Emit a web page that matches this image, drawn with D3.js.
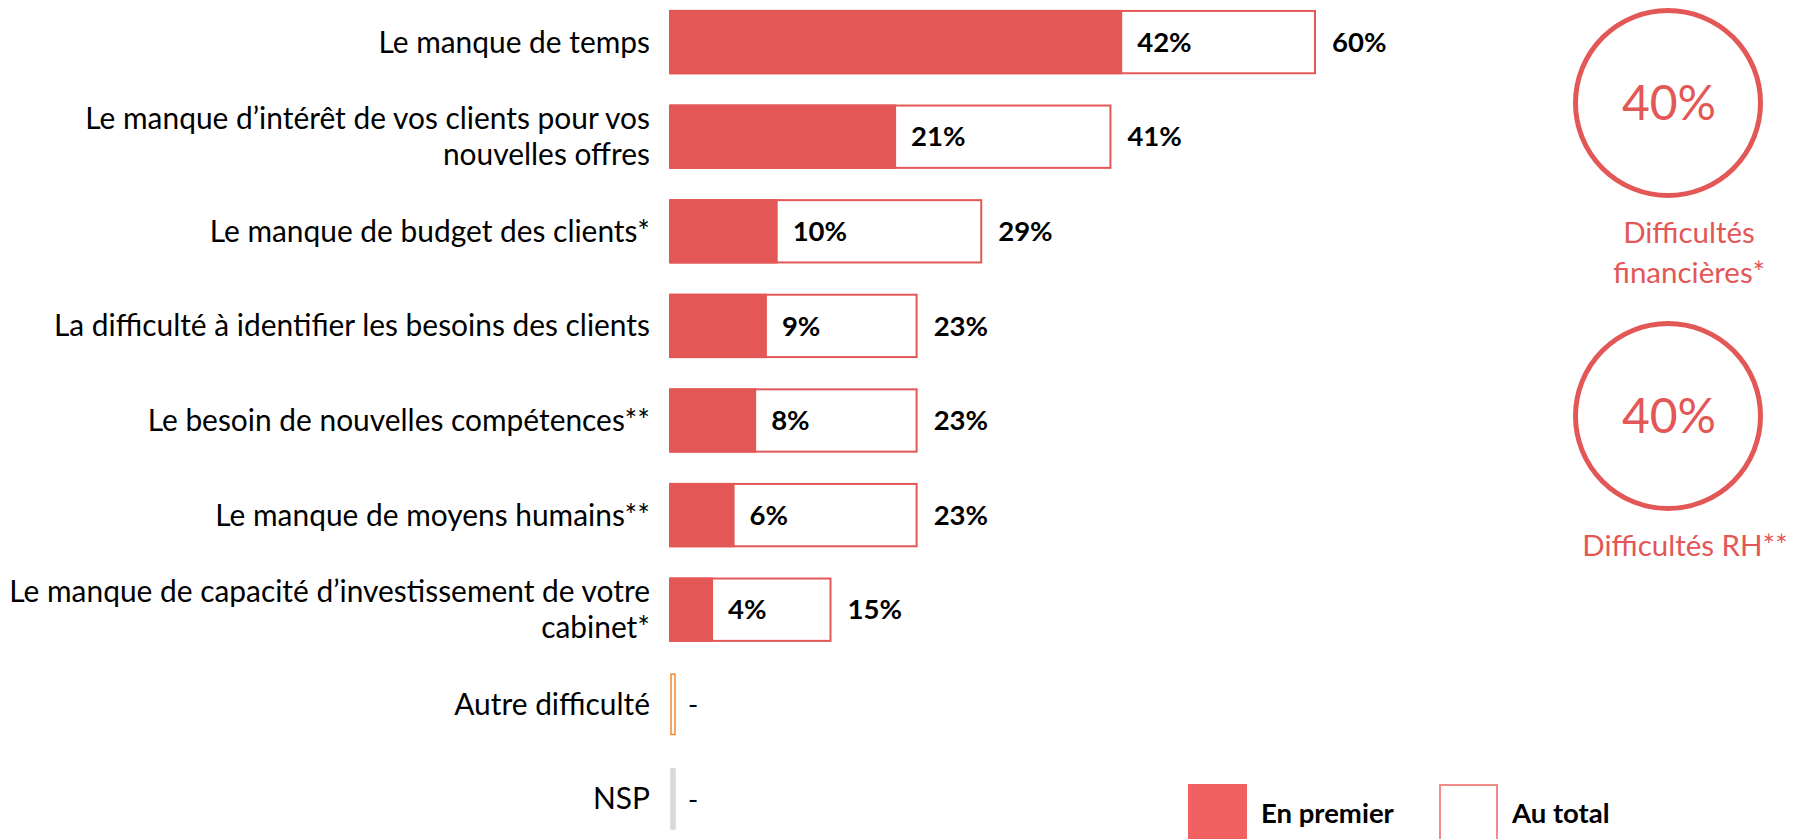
<!DOCTYPE html>
<html><head><meta charset="utf-8">
<script src="https://cdn.jsdelivr.net/npm/d3@7"></script>
<style>body{margin:0;background:#fff}svg{display:block}</style>
</head><body>
<svg id="c" width="1808" height="839"></svg>
<script>
const categories = [
  "Le manque de temps",
  "Le manque d’intérêt de vos clients pour vos\nnouvelles offres",
  "Le manque de budget des clients*",
  "La difficulté à identifier les besoins des clients",
  "Le besoin de nouvelles compétences**",
  "Le manque de moyens humains**",
  "Le manque de capacité d’investissement de votre\ncabinet*",
  "Autre difficulté",
  "NSP"
];
const firstValues = [42, 21, 10, 9, 8, 6, 4, null, null];
const totalValues = [60, 41, 29, 23, 23, 23, 15, null, null];
const seriesNames = ["En premier", "Au total"];
const summaryValues = [40, 40];
const summaryLabels = ["Difficultés\nfinancières*", "Difficultés RH**"];

const RED = "#E35757", LEG_RED = "#F26161";
const svg = d3.select("#c");
const font = "Lato, 'Open Sans', sans-serif";

const x = d3.scaleLinear().domain([0, 60]).range([670, 1316]);
const y = d3.scaleBand().domain(d3.range(categories.length))
  .range([-5.2, 846.2]).paddingInner(0.32).paddingOuter(0.16);
const bw = y.bandwidth();

const rows = categories.map((c, i) => ({c, i, f: firstValues[i], t: totalValues[i]}));
const g = svg.append("g");

// category labels
rows.forEach(r => {
  const lines = r.c.split("\n");
  const cy = y(r.i) + bw / 2;
  const lh = 36;
  const t = g.append("text").attr("text-anchor", "end")
    .attr("font-family", font).attr("font-size", 29.9).attr("fill", "#000");
  lines.forEach((ln, k) => {
    t.append("tspan").attr("x", 650)
      .attr("y", cy + (k - (lines.length - 1) / 2) * lh)
      .attr("dy", "0.35em").text(ln);
  });
});

// total bars (outline)
g.selectAll("rect.tot").data(rows.filter(r => r.t != null)).join("rect")
  .attr("x", d => x(0)).attr("y", d => y(d.i) + 1)
  .attr("width", d => x(d.t) - x(0) - 1).attr("height", bw - 2)
  .attr("fill", "#fff").attr("stroke", RED).attr("stroke-width", 2);
// first bars
g.selectAll("rect.first").data(rows.filter(r => r.f != null)).join("rect")
  .attr("x", d => x(0)).attr("y", d => y(d.i))
  .attr("width", d => x(d.f) - x(0)).attr("height", bw)
  .attr("fill", RED);

// placeholder bars for empty rows
const emptyRows = rows.filter(r => r.t == null);
g.selectAll("rect.empty").data(emptyRows).join("rect")
  .attr("x", d => x(0) + 1).attr("y", d => y(d.i) + 2)
  .attr("width", 4).attr("height", bw - 4)
  .attr("fill", (d, k) => k === 0 ? "#fff" : "#D9D9D9")
  .attr("stroke", (d, k) => k === 0 ? "#F4862F" : "#D9D9D9")
  .attr("stroke-width", 1.5);

// value labels
g.selectAll("text.fv").data(rows.filter(r => r.f != null)).join("text")
  .attr("x", d => x(d.f) + 15).attr("y", d => y(d.i) + bw / 2).attr("dy", "0.35em")
  .attr("font-family", font).attr("font-weight", 700).attr("font-size", 27.5)
  .text(d => d.f + "%");
g.selectAll("text.tv").data(rows).join("text")
  .attr("x", d => d.t != null ? x(d.t) + 16 : x(0) + 18)
  .attr("y", d => y(d.i) + bw / 2).attr("dy", "0.35em")
  .attr("font-family", font).attr("font-weight", d => d.t != null ? 700 : 400)
  .attr("font-size", 27.5)
  .text(d => d.t != null ? d.t + "%" : "-");

// summary circles
const cyScale = d3.scalePoint().domain(d3.range(summaryValues.length)).range([103, 416]);
summaryValues.forEach((v, i) => {
  const cy = cyScale(i);
  svg.append("circle").attr("cx", 1668).attr("cy", cy).attr("r", 92.5)
    .attr("fill", "none").attr("stroke", RED).attr("stroke-width", 5);
  svg.append("text").attr("x", 1669).attr("y", cy).attr("dy", "0.36em")
    .attr("text-anchor", "middle").attr("font-family", font).attr("font-size", 48)
    .attr("fill", RED).text(v + "%");
  const lines = summaryLabels[i].split("\n");
  const t = svg.append("text").attr("text-anchor", "middle").attr("font-family", font)
    .attr("font-size", 29.5).attr("fill", RED);
  lines.forEach((ln, k) => {
    t.append("tspan").attr("x", i === 0 ? 1689 : 1685).attr("y", cy + 130 + k * 40).attr("dy", "0.35em").text(ln);
  });
});

// legend
const leg = [{x: 1189, fill: LEG_RED, stroke: LEG_RED}, {x: 1440, fill: "#fff", stroke: "#F28A8A"}];
seriesNames.forEach((n, i) => {
  svg.append("rect").attr("x", leg[i].x).attr("y", 785).attr("width", 57).attr("height", 60)
    .attr("fill", leg[i].fill).attr("stroke", leg[i].stroke).attr("stroke-width", 2);
  svg.append("text").attr("x", leg[i].x + 72).attr("y", 813).attr("dy", "0.35em")
    .attr("font-family", font).attr("font-weight", 700).attr("font-size", 27.5).text(n);
});
</script>
</body></html>
